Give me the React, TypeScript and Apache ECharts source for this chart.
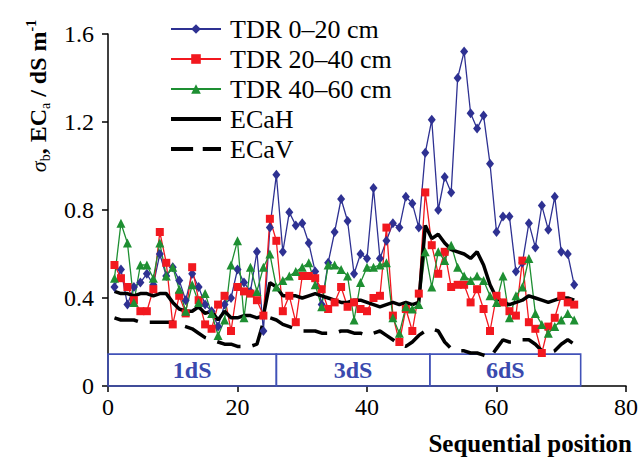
import React, { useEffect, useRef } from "react";
import * as echarts from "echarts";

const positions: number[] = Array.from({ length: 72 }, (_, i) => i + 1);

const tdr0to20 = [
  0.45, 0.53, 0.37, 0.45, 0.47, 0.51, 0.46, 0.6, 0.5, 0.54,
  0.48, 0.39, 0.51, 0.45, 0.37, 0.34, 0.27, 0.37, 0.4, 0.53,
  0.47, 0.43, 0.61, 0.25, 0.72, 0.96, 0.61, 0.79, 0.73, 0.74,
  0.65, 0.52, 0.37, 0.56, 0.7, 0.85, 0.75, 0.51, 0.6, 0.58,
  0.9, 0.58, 0.66, 0.74, 0.72, 0.86, 0.83, 0.72, 1.06, 1.21,
  0.8, 0.95, 0.88, 1.4, 1.52, 1.24, 1.17, 1.23, 1.01, 0.7,
  0.77, 0.77, 0.52, 0.56, 0.74, 0.63, 0.82, 0.71, 0.86, 0.61,
  0.6, 0.46,
];

const tdr20to40 = [
  0.55, 0.49, 0.45, 0.39, 0.34, 0.34, 0.44, 0.7, 0.56, 0.28,
  0.41, 0.33, 0.54, 0.39, 0.28, 0.26, 0.37, 0.41, 0.25, 0.45,
  0.43, 0.42, 0.39, 0.32, 0.76, 0.66, 0.34, 0.41, 0.29, 0.5,
  0.5, 0.49, 0.44, 0.35, 0.38, 0.45, 0.36, 0.38, 0.35, 0.34,
  0.4, 0.41, 0.72, 0.32, 0.2, 0.35, 0.25, 0.42, 0.88, 0.64,
  0.51, 0.61, 0.45, 0.46, 0.46, 0.38, 0.44, 0.35, 0.25, 0.41,
  0.38, 0.34, 0.32, 0.57, 0.29, 0.26, 0.15, 0.27, 0.31, 0.41,
  0.38, 0.37,
];

const tdr40to60 = [
  0.49, 0.74, 0.65, 0.38, 0.55, 0.55, 0.49, 0.65, 0.5, 0.54,
  0.44, 0.34, 0.46, 0.38, 0.42, 0.33, 0.23, 0.3, 0.55, 0.66,
  0.31, 0.54, 0.43, 0.54, 0.6, 0.45, 0.48, 0.5, 0.52, 0.54,
  0.56, 0.46, 0.36, 0.55, 0.55, 0.53, 0.5, 0.3, 0.47, 0.54,
  0.54, 0.55, 0.56, 0.31, 0.24, 0.36, 0.35, 0.37, 0.61, 0.45,
  0.61, 0.57, 0.64, 0.54, 0.5, 0.48, 0.5, 0.48, 0.41, 0.38,
  0.5, 0.31, 0.41, 0.45, 0.58, 0.33, 0.28, 0.24, 0.27, 0.3,
  0.33, 0.3,
];

const ecaH = [
  0.43, 0.42, 0.42, 0.41, 0.42, 0.42, 0.41, 0.42, 0.42, 0.38,
  0.35, 0.34, 0.34, 0.36, 0.33, 0.34, 0.3, 0.34, 0.31, 0.31,
  0.32, 0.32, 0.31, 0.32, 0.47, 0.45, 0.41, 0.41, 0.41, 0.4,
  0.41, 0.42, 0.41, 0.4, 0.39, 0.38, 0.38, 0.39, 0.39, 0.38,
  0.37, 0.36, 0.37, 0.38, 0.37, 0.38, 0.37, 0.38, 0.73, 0.67,
  0.69, 0.65, 0.62, 0.61, 0.6, 0.58, 0.61, 0.55, 0.46, 0.4,
  0.38, 0.37, 0.38, 0.39, 0.41, 0.4, 0.39, 0.38, 0.39, 0.4,
  0.4, 0.39,
];

const ecaV = [
  0.31, 0.3, 0.3, 0.3, 0.29, 0.29, 0.29, 0.29, 0.29, 0.29,
  0.28, 0.27, 0.26, 0.24, 0.22, 0.21, 0.2, 0.19, 0.19, 0.18,
  0.18, 0.18, 0.19, 0.29, 0.31, 0.3, 0.28, 0.27, 0.26, 0.25,
  0.25, 0.25, 0.24, 0.24, 0.24, 0.25, 0.25, 0.24, 0.24, 0.23,
  0.24, 0.25, 0.23, 0.21, 0.19, 0.18, 0.2, 0.23, 0.25, 0.26,
  0.25, 0.2, 0.17, 0.16, 0.16, 0.15, 0.15, 0.14, 0.13, 0.17,
  0.21, 0.2, 0.2, 0.21, 0.21, 0.19, 0.16, 0.15, 0.16, 0.19,
  0.21, 0.19,
];

const seriesNames = ["TDR 0\u201320 cm", "TDR 20\u201340 cm", "TDR 40\u201360 cm", "ECaH", "ECaV"];
const zoneNames = ["1dS", "3dS", "6dS"];
const zoneBounds = [0, 26, 49.7, 73];
const zoneTop = 0.145;

const SERIF = "Liberation Serif";

const SOLID_ICON = "path://M0,0H52V4H0Z";
const DASH_ICON = "path://M0,0H23V4H0Z M33,0H52V4H33Z";

function pairs(values: number[]) {
  return positions.map((x, i) => [x, values[i]]);
}

export default function App() {
  const ref = useRef<HTMLDivElement>(null);

  useEffect(() => {
    document.body.style.margin = "0";
    if (!ref.current) return;
    const chart = echarts.init(ref.current, undefined, { renderer: "svg" });

    const axisCommon = {
      axisLine: { show: true, lineStyle: { color: "#000", width: 1.5 } },
      axisTick: { show: true, inside: false, length: 6, lineStyle: { color: "#000", width: 1.5 } },
      splitLine: { show: false },
      axisLabel: { color: "#000", fontSize: 24, fontFamily: SERIF },
    };

    const option: any = {
      animation: false,
      textStyle: { fontFamily: SERIF },
      grid: { left: 108, right: 15, top: 34, bottom: 74, containLabel: false, outerBoundsMode: "none" },
      xAxis: {
        type: "value",
        min: 0,
        max: 80,
        interval: 20,
        ...axisCommon,
        axisLabel: { ...axisCommon.axisLabel, margin: 9 },
      },
      yAxis: {
        type: "value",
        min: 0,
        max: 1.6,
        interval: 0.4,
        ...axisCommon,
        axisLabel: { ...axisCommon.axisLabel, margin: 14 },
      },
      legend: {
        orient: "vertical",
        left: 165,
        top: 11,
        itemWidth: 50,
        itemHeight: 12,
        itemGap: 4,
        textStyle: { fontSize: 26, fontFamily: SERIF, color: "#000", lineHeight: 21, padding: [0, 0, 0, 4] },
        data: [
          { name: seriesNames[0] },
          { name: seriesNames[1] },
          { name: seriesNames[2] },
          { name: seriesNames[3], icon: SOLID_ICON },
          { name: seriesNames[4], icon: DASH_ICON },
        ],
      },
      series: [
        {
          name: seriesNames[0],
          type: "line",
          data: pairs(tdr0to20),
          symbol: "diamond",
          symbolSize: [8, 10],
          color: "#2e3192",
          lineStyle: { width: 1.3, color: "#2e3192" },
          itemStyle: { color: "#2e3192" },
          markArea: {
            silent: true,
            itemStyle: { color: "rgba(0,0,0,0)", borderColor: "#4152b8", borderWidth: 1.6 },
            label: {
              show: true,
              position: "inside",
              color: "#3a4aae",
              fontSize: 24,
              fontWeight: "bold",
              fontFamily: SERIF,
            },
            data: zoneNames.map((n, i) => [
              { name: n, xAxis: zoneBounds[i], yAxis: 0 },
              { xAxis: zoneBounds[i + 1], yAxis: zoneTop },
            ]),
          },
        },
        {
          name: seriesNames[1],
          type: "line",
          data: pairs(tdr20to40),
          symbol: "rect",
          symbolSize: 8,
          color: "#f2181f",
          lineStyle: { width: 1.3, color: "#f2181f" },
          itemStyle: { color: "#f2181f" },
        },
        {
          name: seriesNames[2],
          type: "line",
          data: pairs(tdr40to60),
          symbol: "triangle",
          symbolSize: 9,
          color: "#1e8f32",
          lineStyle: { width: 1.3, color: "#1e8f32" },
          itemStyle: { color: "#1e8f32" },
        },
        {
          name: seriesNames[3],
          type: "line",
          data: pairs(ecaH),
          symbol: "none",
          color: "#000",
          lineStyle: { width: 3.5, color: "#000" },
        },
        {
          name: seriesNames[4],
          type: "line",
          data: pairs(ecaV),
          symbol: "none",
          color: "#000",
          lineStyle: { width: 3.5, color: "#000", type: [24, 12] },
        },
      ],
      graphic: [
        {
          type: "text",
          x: 38,
          y: 96,
          rotation: Math.PI / 2,
          style: {
            text: "{s|\u03c3}{sb|b}{n|, EC}{sb|a}{n| / dS m}{sp|-1}",
            align: "center",
            verticalAlign: "middle",
            rich: {
              s: { fontSize: 22, fontStyle: "italic", fontFamily: SERIF, lineHeight: 28, fill: "#000" },
              n: { fontSize: 24, fontWeight: "bold", fontFamily: SERIF, lineHeight: 28, fill: "#000" },
              sb: { fontSize: 14, fontFamily: SERIF, verticalAlign: "bottom", lineHeight: 14, fill: "#000" },
              sp: { fontSize: 14, fontWeight: "bold", fontFamily: SERIF, verticalAlign: "top", lineHeight: 14, fill: "#000" },
            },
          },
        },
        {
          type: "text",
          x: 632,
          y: 443,
          style: {
            text: "Sequential position",
            align: "right",
            verticalAlign: "middle",
            fontSize: 25,
            fontWeight: "bold",
            fontFamily: SERIF,
            fill: "#000",
          },
        },
      ],
    };

    chart.setOption(option);
    return () => chart.dispose();
  }, []);

  return <div ref={ref} style={{ width: 641, height: 460 }} />;
}
